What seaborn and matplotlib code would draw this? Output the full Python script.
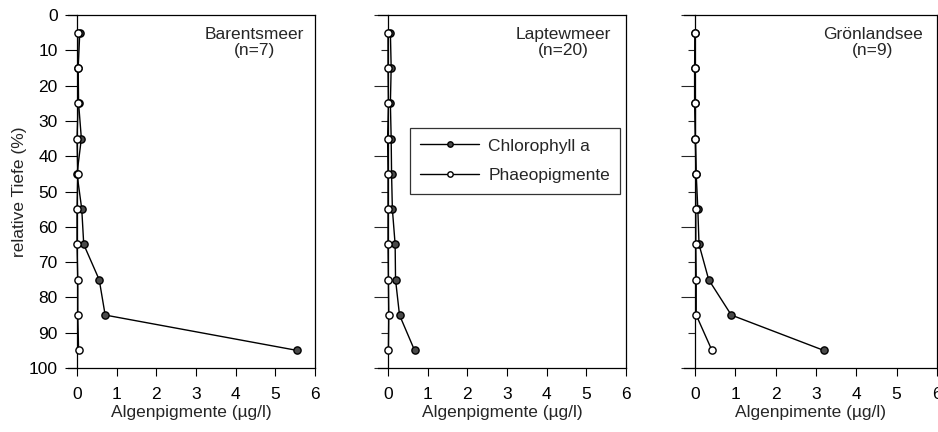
import numpy as np
import pandas as pd
import matplotlib
matplotlib.use("Agg")
import matplotlib.pyplot as plt
import seaborn as sns
from matplotlib.ticker import MultipleLocator

sns.set_style("ticks")
plt.rcParams['font.family'] = ['Liberation Sans', 'DejaVu Sans']

depth = [5, 15, 25, 35, 45, 55, 65, 75, 85, 95]

barents_chl = [0.07, 0.03, 0.04, 0.11, 0.00, 0.12, 0.17, 0.56, 0.71, 5.54]
barents_pha = [0.02, 0.02, 0.03, 0.00, 0.02, 0.00, 0.00, 0.02, 0.02, 0.04]
laptew_chl = [0.06, 0.08, 0.06, 0.08, 0.09, 0.11, 0.18, 0.19, 0.29, 0.67]
laptew_pha = [0.00, 0.00, 0.01, -0.01, 0.00, 0.00, 0.00, 0.01, 0.02, 0.01]
groen_chl = [0.00, 0.00, 0.01, 0.01, 0.03, 0.07, 0.10, 0.34, 0.90, 3.19]
groen_pha = [0.00, -0.01, -0.01, 0.01, 0.02, 0.02, 0.02, 0.03, 0.03, 0.42]

titles = ["Barentsmeer\n(n=7)", "Laptewmeer\n(n=20)", "Grönlandsee\n(n=9)"]
xlabels = ["Algenpigmente (µg/l)", "Algenpigmente (µg/l)", "Algenpimente (µg/l)"]
ylabel = "relative Tiefe (%)"
series_names = ["Chlorophyll a", "Phaeopigmente"]
xticks = [0, 1, 2, 3, 4, 5, 6]
yticks = [0, 10, 20, 30, 40, 50, 60, 70, 80, 90, 100]

FS = 12.5
fig = plt.figure(figsize=(9.38, 4.32), dpi=100)
W, H = 938, 432
lefts = [68, 378, 684]
rights = [315, 626, 937]
zeros = [77, 388, 695]
top, bottom = 15, 368

data = [(barents_chl, barents_pha), (laptew_chl, laptew_pha), (groen_chl, groen_pha)]

axes = []
for i in range(3):
    ax = fig.add_axes([lefts[i] / W, 1 - bottom / H, (rights[i] - lefts[i]) / W, (bottom - top) / H])
    axes.append(ax)
    chl, pha = data[i]
    df = pd.DataFrame({"depth": depth * 2,
                       "val": list(chl) + list(pha),
                       "series": [series_names[0]] * len(depth) + [series_names[1]] * len(depth)})
    sns.lineplot(data=df[df.series == series_names[0]], x="val", y="depth", sort=False,
                 orient="y", ax=ax, color="black", lw=1.0, marker="o", markersize=5.2,
                 markerfacecolor="#4a4a4a", markeredgecolor="black", markeredgewidth=1.0,
                 label=series_names[0], legend=False, zorder=3)
    sns.lineplot(data=df[df.series == series_names[1]], x="val", y="depth", sort=False,
                 orient="y", ax=ax, color="black", lw=1.0, marker="o", markersize=5.2,
                 markerfacecolor="white", markeredgecolor="black", markeredgewidth=1.0,
                 label=series_names[1], legend=False, zorder=4)
    x0 = (lefts[i] - zeros[i]) / ((rights[i] - zeros[i]) / 6.0)
    ax.set_xlim(x0, 6)
    ax.set_ylim(100, 0)
    ax.set_xticks(xticks)
    ax.spines['left'].set_position(('data', 0))
    for s in ax.spines.values():
        s.set_visible(True)
        s.set_linewidth(0.9)
        s.set_color("black")
    ax.tick_params(axis="x", which="major", direction="out", length=6, width=0.8,
                   labelsize=FS, colors="black", pad=8)
    if i == 0:
        ax.set_yticks(yticks)
        ax.tick_params(axis="y", which="major", direction="out", length=9, width=0.8,
                       labelsize=FS, colors="black", pad=5)
        ax.set_ylabel(ylabel, fontsize=FS)
        ax.yaxis.set_label_coords((20 - 68) / (315 - 68), 0.5)
        ax.yaxis.label.set_va("center")
    else:
        ax.set_yticks([0, 20, 40, 60, 80, 100])
        ax.yaxis.set_minor_locator(MultipleLocator(10))
        ax.tick_params(axis="y", which="major", direction="out", length=10, width=0.8,
                       labelleft=False)
        ax.tick_params(axis="y", which="minor", direction="out", length=5, width=0.8)
        ax.set_ylabel("")
    ax.set_xlabel(xlabels[i], fontsize=FS)
    ax.xaxis.set_label_coords(0.5, -(405 - 368) / (368 - 15))
    ax.xaxis.label.set_va("top")
    ax.text(0.755 if i == 0 else 0.746, 0.966, titles[i], transform=ax.transAxes,
            ha="center", va="top", fontsize=FS, linespacing=1.05)

h, l = axes[1].get_legend_handles_labels()
order = [l.index(series_names[0]), l.index(series_names[1])]
leg = axes[1].legend([h[k] for k in order], [l[k] for k in order],
                     loc="upper left",
                     bbox_to_anchor=((410 - 378) / (626 - 378), 1 - (128 - 15) / (368 - 15)),
                     borderaxespad=0, frameon=True, fancybox=False, edgecolor="black",
                     fontsize=FS, handlelength=3.4, handletextpad=0.5, borderpad=0.6,
                     labelspacing=0.85, markerscale=0.75)
leg.get_frame().set_linewidth(0.9)

fig.savefig("out.png", dpi=100)
